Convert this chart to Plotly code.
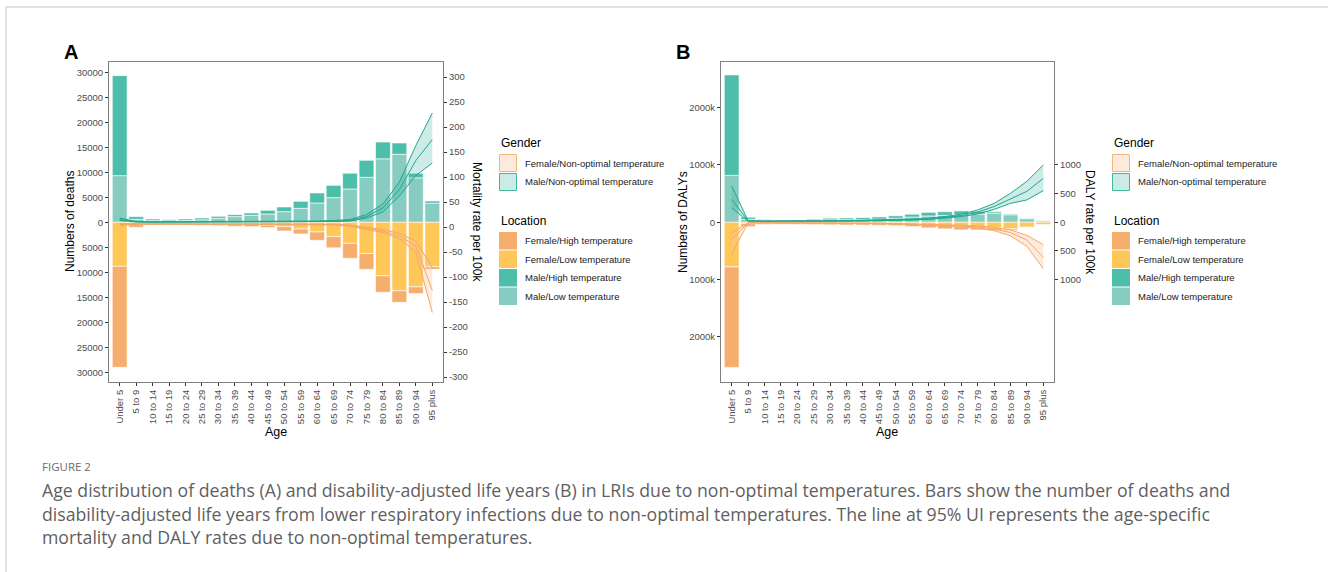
import plotly.graph_objects as go

W, H = 1328, 572

ages = ["Under 5", "5 to 9", "10 to 14", "15 to 19", "20 to 24", "25 to 29", "30 to 34",
        "35 to 39", "40 to 44", "45 to 49", "50 to 54", "55 to 59", "60 to 64", "65 to 69",
        "70 to 74", "75 to 79", "80 to 84", "85 to 89", "90 to 94", "95 plus"]

# ---------- Panel A: deaths ----------
death_male_low = [9333, 600, 333, 300, 350, 500, 800, 1133, 1400, 1667, 2133, 2800, 3867, 4933,
                  6667, 9000, 12700, 13600, 8900, 3850]
death_male_high = [20000, 533, 334, 233, 317, 367, 400, 400, 467, 733, 934, 1400, 2000, 2450,
                   3150, 3400, 3350, 2267, 900, 417]
death_female_low = [8800, 350, 250, 200, 230, 280, 320, 380, 420, 600, 867, 1333, 1933, 2867,
                    4200, 6250, 10700, 13700, 12900, 8870]
death_female_high = [20200, 650, 283, 200, 237, 320, 347, 420, 447, 467, 866, 1000, 1667, 2233,
                     3000, 3150, 3300, 2300, 1350, 530]

mort_male_lo = [13, 10, 9.5, 9.5, 9.5, 9.5, 9.5, 9.5, 9.5, 9.5, 9.5, 10, 10.5, 11, 12, 18, 30, 62, 103, 128]
mort_male_mid = [15, 10.5, 10, 10, 10, 10, 10, 10, 10, 10, 10, 10.5, 11, 12, 13, 21, 38, 75, 133, 175]
mort_male_hi = [18, 11, 10.5, 10.5, 10.5, 10.5, 10.5, 10.5, 10.5, 10.5, 11, 11, 12, 13, 15, 25, 46, 90, 163, 228]
mort_female_hi = [7, 6.5, 6.5, 6.5, 6.5, 6.5, 6.5, 6.5, 6.5, 6.5, 6.5, 6.5, 6, 5.5, 4, 0, -5, -13, -28, -81]
mort_female_mid = [5, 6, 6, 6, 6, 6, 6, 6, 6, 6, 6, 6, 5.5, 5, 3, -2, -8, -18, -38, -127]
mort_female_lo = [3, 5.5, 5.5, 5.5, 5.5, 5.5, 5.5, 5.5, 5.5, 5.5, 5.5, 5.5, 5, 4, 1.5, -4, -11, -23, -50, -171]

# ---------- Panel B: DALYs ----------
daly_male_low = [818000, 50000, 28000, 21000, 24000, 31000, 42000, 45000, 49000, 56000, 70000,
                 90000, 110000, 120000, 135000, 140000, 160000, 130000, 62000, 25000]
daly_male_high = [1754000, 37000, 18000, 14000, 16000, 21000, 28000, 30000, 32000, 37000, 42000,
                  50000, 62000, 64000, 63000, 50000, 25000, 15000, 8000, 4000]
daly_female_low = [779000, 25000, 15000, 12000, 14000, 17000, 19000, 21000, 22000, 24000, 27000,
                   35000, 45000, 55000, 70000, 85000, 93000, 116000, 85000, 43000]
daly_female_high = [1754000, 50000, 25000, 23000, 24000, 25000, 26000, 27000, 28000, 31000, 33000,
                    40000, 54000, 61000, 64000, 49000, 52000, 24000, 8000, 4000]

dr_male_lo = [250, 20, 15, 14, 15, 16, 18, 20, 22, 25, 30, 38, 50, 68, 98, 145, 225, 330, 390, 552]
dr_male_mid = [400, 25, 18, 17, 18, 19, 22, 25, 28, 31, 38, 47, 60, 82, 118, 178, 275, 410, 540, 767]
dr_male_hi = [635, 30, 22, 20, 21, 23, 26, 30, 34, 38, 46, 57, 72, 100, 142, 215, 330, 505, 715, 1000]
dr_female_hi = [-190, -10, -8, -8, -9, -10, -11, -13, -15, -17, -22, -27, -38, -45, -52, -65, -87, -134, -230, -390]
dr_female_mid = [-300, -12, -10, -10, -11, -12, -14, -16, -18, -21, -27, -33, -48, -55, -65, -82, -116, -180, -310, -612]
dr_female_lo = [-560, -15, -12, -12, -13, -15, -17, -19, -22, -26, -32, -40, -58, -68, -80, -100, -145, -238, -420, -810]

# tick labels
a_left_vals = [-30000, -25000, -20000, -15000, -10000, -5000, 0, 5000, 10000, 15000, 20000, 25000, 30000]
a_left_text = ["30000", "25000", "20000", "15000", "10000", "5000", "0", "5000", "10000", "15000", "20000", "25000", "30000"]
a_right_vals = [-300, -250, -200, -150, -100, -50, 0, 50, 100, 150, 200, 250, 300]
a_right_text = ["-300", "-250", "-200", "-150", "-100", "-50", "0", "50", "100", "150", "200", "250", "300"]
b_left_vals = [-2000000, -1000000, 0, 1000000, 2000000]
b_left_text = ["2000k", "1000k", "0", "1000k", "2000k"]
b_right_vals = [-1000, -500, 0, 500, 1000]
b_right_text = ["1000", "500", "0", "500", "1000"]

# colours
C_MH = "#4DBEAA"
C_ML = "#86CCC1"
C_FL = "#FFC658"
C_FH = "#F5AE6E"
C_MLINE = "#22A88E"
C_FLINE = "#F5A866"
C_MRIB = "rgba(60,180,158,0.25)"
C_FRIB = "rgba(250,200,160,0.35)"

def px(x):
    return x / W

def py(y):
    return 1 - y / H

FONT = "Liberation Sans, Arial, sans-serif"
TICKC = "#4d4d4d"

fig = go.Figure()

def bars(xa, ya, vals_list, colors, neg):
    for vals, col in zip(vals_list, colors):
        v = [-a for a in vals] if neg else vals
        fig.add_trace(go.Bar(x=ages, y=v, xaxis=xa, yaxis=ya, width=0.9,
                             marker=dict(color=col, line=dict(color="rgba(255,255,255,0.75)", width=0.8)),
                             showlegend=False, hoverinfo="skip"))

def band(xa, ya, lo, mid, hi, lc, fc):
    fig.add_trace(go.Scatter(x=ages, y=lo, xaxis=xa, yaxis=ya, mode="lines",
                             line=dict(color=lc, width=1), showlegend=False))
    fig.add_trace(go.Scatter(x=ages, y=hi, xaxis=xa, yaxis=ya, mode="lines", fill="tonexty",
                             fillcolor=fc, line=dict(color=lc, width=1), showlegend=False))
    fig.add_trace(go.Scatter(x=ages, y=mid, xaxis=xa, yaxis=ya, mode="lines",
                             line=dict(color=lc, width=1), showlegend=False))

# Panel A
bars("x", "y", [death_male_low, death_male_high], [C_ML, C_MH], False)
bars("x", "y", [death_female_low, death_female_high], [C_FL, C_FH], True)
band("x", "y2", mort_male_lo, mort_male_mid, mort_male_hi, C_MLINE, C_MRIB)
band("x", "y2", mort_female_lo, mort_female_mid, mort_female_hi, C_FLINE, C_FRIB)

# Panel B
bars("x2", "y3", [daly_male_low, daly_male_high], [C_ML, C_MH], False)
bars("x2", "y3", [daly_female_low, daly_female_high], [C_FL, C_FH], True)
band("x2", "y4", dr_male_lo, dr_male_mid, dr_male_hi, C_MLINE, C_MRIB)
band("x2", "y4", dr_female_lo, dr_female_mid, dr_female_hi, C_FLINE, C_FRIB)

ydom = [py(382), py(62)]
axis_common = dict(showgrid=False, zeroline=False, ticks="outside", ticklen=3, tickwidth=1,
                   tickcolor="#333333", tickfont=dict(family=FONT, size=9.5, color=TICKC))
xcommon = dict(axis_common, range=[-0.65, 19.65], tickangle=-90, showline=True, linecolor="#808080",
               linewidth=1, mirror=True, type="category")

fig.update_layout(
    width=W, height=H, margin=dict(l=0, r=0, t=0, b=0),
    paper_bgcolor="white", plot_bgcolor="white",
    barmode="relative", showlegend=False,
    font=dict(family=FONT),
    xaxis=dict(xcommon, domain=[px(109), px(443)], anchor="y"),
    yaxis=dict(axis_common, domain=ydom, anchor="x", range=[-31940, 32060],
               tickvals=a_left_vals, ticktext=a_left_text, showline=True, linecolor="#808080",
               linewidth=1, mirror=True),
    yaxis2=dict(axis_common, overlaying="y", side="right", anchor="x", range=[-310, 330],
                tickvals=a_right_vals, ticktext=a_right_text, showline=False),
    xaxis2=dict(xcommon, domain=[px(721), px(1054)], anchor="y3"),
    yaxis3=dict(axis_common, domain=ydom, anchor="x2", range=[-2788000, 2797000],
                tickvals=b_left_vals, ticktext=b_left_text, showline=True, linecolor="#808080",
                linewidth=1, mirror=True),
    yaxis4=dict(axis_common, overlaying="y3", side="right", anchor="x2", range=[-2788, 2797],
                tickvals=b_right_vals, ticktext=b_right_text, showline=False),
)

ann = []
shapes = []

def text(x, y, s, size, color="black", angle=0, xanchor="center", bold=False, family=FONT):
    if bold:
        s = "<b>" + s + "</b>"
    ann.append(dict(x=px(x), y=py(y), xref="paper", yref="paper", text=s, showarrow=False,
                    xanchor=xanchor, yanchor="middle", textangle=angle,
                    font=dict(family=family, size=size, color=color)))

# panel labels
text(71, 52, "A", 20, bold=True)
text(683, 52, "B", 20, bold=True)
# axis titles
text(70, 222, "Numbers of deaths", 12, angle=-90)
text(477, 222, "Mortality rate per 100k", 12, angle=90)
text(276, 432, "Age", 12.5)
text(683, 222, "Numbers of DALYs", 12, angle=-90)
text(1090, 222, "DALY rate per 100k", 12, angle=90)
text(887, 432, "Age", 12.5)

# legends
def legend(x0):
    text(x0, 143, "Gender", 12, xanchor="left")
    gkeys = [("#FCEBDD", "#F5B47A", "Female/Non-optimal temperature", 154, 172),
             ("#CDEBE5", "#3DB8A0", "Male/Non-optimal temperature", 173, 191)]
    for fc, lc, lab, y0, y1 in gkeys:
        shapes.append(dict(type="rect", xref="paper", yref="paper", x0=px(x0 + 0.5), x1=px(x0 + 17.5),
                           y0=py(y1 - 0.5), y1=py(y0 + 0.5), fillcolor=fc, line=dict(color=lc, width=1)))
        text(x0 + 24, (y0 + y1) / 2, lab, 9.5, color="#222222", xanchor="left")
    text(x0, 221, "Location", 12, xanchor="left")
    lkeys = [(C_FH, "Female/High temperature", 232, 249.5),
             (C_FL, "Female/Low temperature", 250.5, 268),
             (C_MH, "Male/High temperature", 269, 286.5),
             (C_ML, "Male/Low temperature", 287.5, 305)]
    for fc, lab, y0, y1 in lkeys:
        shapes.append(dict(type="rect", xref="paper", yref="paper", x0=px(x0), x1=px(x0 + 18),
                           y0=py(y1), y1=py(y0), fillcolor=fc, line=dict(width=0)))
        text(x0 + 24, (y0 + y1) / 2, lab, 9.5, color="#222222", xanchor="left")

legend(499)
legend(1112)

# page frame
shapes.append(dict(type="line", xref="paper", yref="paper", x0=px(6), x1=1, y0=py(7), y1=py(7),
                   line=dict(color="#c4c4c4", width=1)))
shapes.append(dict(type="line", xref="paper", yref="paper", x0=px(6), x1=px(6), y0=py(7), y1=0,
                   line=dict(color="#c4c4c4", width=1)))

# caption
CAP = "Open Sans, Lato, sans-serif"
text(40, 466, "FIGURE 2", 11.5, color="#6b6b6b", xanchor="left", family=CAP)
cap_lines = [
    "Age distribution of deaths (A) and disability-adjusted life years (B) in LRIs due to non-optimal temperatures. Bars show the number of deaths and",
    "disability-adjusted life years from lower respiratory infections due to non-optimal temperatures. The line at 95% UI represents the age-specific",
    "mortality and DALY rates due to non-optimal temperatures.",
]
for i, s in enumerate(cap_lines):
    text(40, 490 + 23.5 * i, s, 17.7, color="#5f5f5f", xanchor="left", family=CAP)

fig.update_layout(annotations=ann, shapes=shapes)
fig.write_html("out.html")
